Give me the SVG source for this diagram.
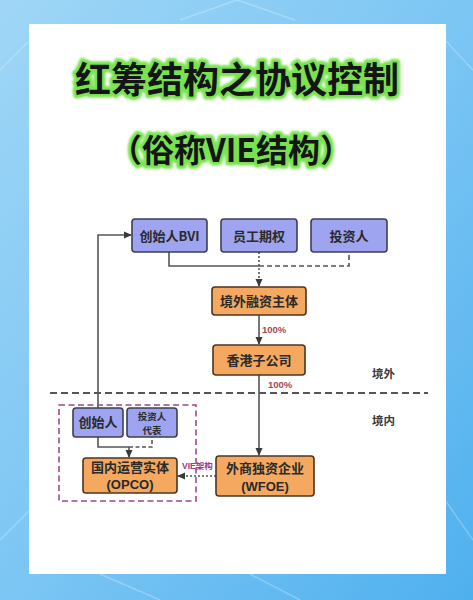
<svg xmlns="http://www.w3.org/2000/svg" width="473" height="600" viewBox="0 0 473 600">
<defs>
<linearGradient id="bg" x1="0" y1="0" x2="1" y2="1">
<stop offset="0" stop-color="#9fd6f6"/>
<stop offset="0.5" stop-color="#7cc6f4"/>
<stop offset="1" stop-color="#4fb0ee"/>
</linearGradient>
<filter id="glow" x="-10%" y="-30%" width="120%" height="160%">
<feGaussianBlur stdDeviation="1.2"/>
</filter>
<marker id="arr" markerWidth="8" markerHeight="8" refX="7" refY="4" orient="auto" markerUnits="userSpaceOnUse">
<path d="M0,0.5 L8,4 L0,7.5 Z" fill="#3a3a3a"/>
</marker>
</defs>
<style>
.ttl{font-family:"Noto Sans CJK SC","Noto Sans",sans-serif;font-weight:bold;fill:#151515;text-anchor:middle}
.glow{stroke:#79e34f;stroke-width:7;stroke-linejoin:round;fill:#79e34f}
.blue{fill:#9ea4ef;stroke:#3b3f55;stroke-width:1.6}
.orng{fill:#f4a860;stroke:#4d3420;stroke-width:1.6}
.nt{font-family:"Noto Sans CJK SC","Noto Sans",sans-serif;font-weight:bold;font-size:13px;fill:#2a2a2a;text-anchor:middle}
.st{font-family:"Noto Sans CJK SC","Noto Sans",sans-serif;font-weight:bold;font-size:9.5px;fill:#2a2a2a;text-anchor:middle}
.lt{font-family:"Liberation Sans",Arial,sans-serif;font-weight:bold;font-size:13px;fill:#2a2a2a;text-anchor:middle}
.ln{fill:none;stroke:#555;stroke-width:1.6}
.pct{font-family:"Liberation Sans",Arial,sans-serif;font-weight:bold;font-size:9.5px;fill:#a8464e}
.side{font-family:"Noto Sans CJK SC","Noto Sans",sans-serif;font-size:11.5px;font-weight:bold;fill:#3a3a3a}
</style>
<rect x="0" y="0" width="473" height="600" fill="url(#bg)"/>
<g stroke="#ffffff" stroke-opacity="0.25" stroke-width="1.5" fill="none">
<path d="M180,20 L237,0 L295,20"/>
<path d="M0,70 L30,40"/>
<path d="M445,40 L473,70"/>
<path d="M0,540 L30,510"/>
<path d="M445,500 L473,540"/>
<path d="M100,574 L160,600"/>
<path d="M250,574 L300,600"/>
</g>
<rect x="29" y="24" width="417" height="550" fill="#ffffff"/>

<g id="title">
<text class="ttl glow" x="237" y="93" font-size="36" filter="url(#glow)">红筹结构之协议控制</text>
<text class="ttl" x="237" y="93" font-size="36">红筹结构之协议控制</text>
<text class="ttl glow" x="231" y="162" font-size="32" filter="url(#glow)">（俗称VIE结构）</text>
<text class="ttl" x="231" y="162" font-size="32">（俗称VIE结构）</text>
</g>

<g id="connectors">
<path class="ln" d="M169,252 V266 H259"/>
<path class="ln" d="M259,266 H349 V252" stroke-dasharray="5,3"/>
<path class="ln" d="M259,252 V286" stroke-dasharray="2,2" marker-end="url(#arr)"/>
<path class="ln" d="M259,315 V344" marker-end="url(#arr)"/>
<path class="ln" d="M259,375 V455" marker-end="url(#arr)"/>
<path class="ln" d="M98,408 V235 H131" marker-end="url(#arr)"/>
<path class="ln" d="M98,437 V447 H129"/>
<path class="ln" d="M129,447 H152 V437" stroke-dasharray="4,2.5"/>
<path class="ln" d="M129,447 V457" marker-end="url(#arr)"/>
<path class="ln" d="M216,476 H178" stroke-dasharray="2,2" marker-end="url(#arr)"/>
<path d="M50,393 H428" fill="none" stroke="#555" stroke-width="1.8" stroke-dasharray="7,4"/>
<rect x="59" y="405" width="137" height="96" fill="none" stroke="#9b4a86" stroke-width="1.6" stroke-dasharray="6,3.5"/>
</g>

<g id="labels">
<text class="pct" x="262" y="333">100%</text>
<text class="pct" x="268" y="388">100%</text>
<text class="side" x="372" y="378">境外</text>
<text class="side" x="372" y="425">境内</text>
<text x="182" y="469" font-family="Liberation Sans,Noto Sans CJK SC,sans-serif" font-weight="bold" font-size="8.5" fill="#a0358e">VIE架构</text>
</g>

<g id="n-bvi">
<rect class="blue" x="132" y="219" width="75" height="33" rx="3"/>
<text class="nt" x="169.5" y="240.5">创始人BVI</text>
</g>
<g id="n-esop">
<rect class="blue" x="221" y="219" width="76" height="33" rx="3"/>
<text class="nt" x="259" y="240.5">员工期权</text>
</g>
<g id="n-inv">
<rect class="blue" x="311" y="219" width="76" height="33" rx="3"/>
<text class="nt" x="349" y="240.5">投资人</text>
</g>
<g id="n-offshore">
<rect class="orng" x="212" y="287" width="94" height="28" rx="3"/>
<text class="nt" x="259" y="306">境外融资主体</text>
</g>
<g id="n-hk">
<rect class="orng" x="213" y="345" width="92" height="30" rx="3"/>
<text class="nt" x="259" y="365">香港子公司</text>
</g>
<g id="n-founder">
<rect class="blue" x="73" y="408" width="50" height="29" rx="3"/>
<text class="nt" x="98" y="427">创始人</text>
</g>
<g id="n-invrep">
<rect class="blue" x="127" y="408" width="50" height="29" rx="3"/>
<text class="st" x="152" y="420">投资人</text>
<text class="st" x="152" y="434">代表</text>
</g>
<g id="n-opco">
<rect class="orng" x="83" y="458" width="94" height="35" rx="3"/>
<text class="nt" x="130" y="472">国内运营实体</text>
<text class="lt" x="130" y="489">(OPCO)</text>
</g>
<g id="n-wfoe">
<rect class="orng" x="216" y="456" width="98" height="40" rx="3"/>
<text class="nt" x="265" y="473">外商独资企业</text>
<text class="lt" x="265" y="491">(WFOE)</text>
</g>
</svg>
